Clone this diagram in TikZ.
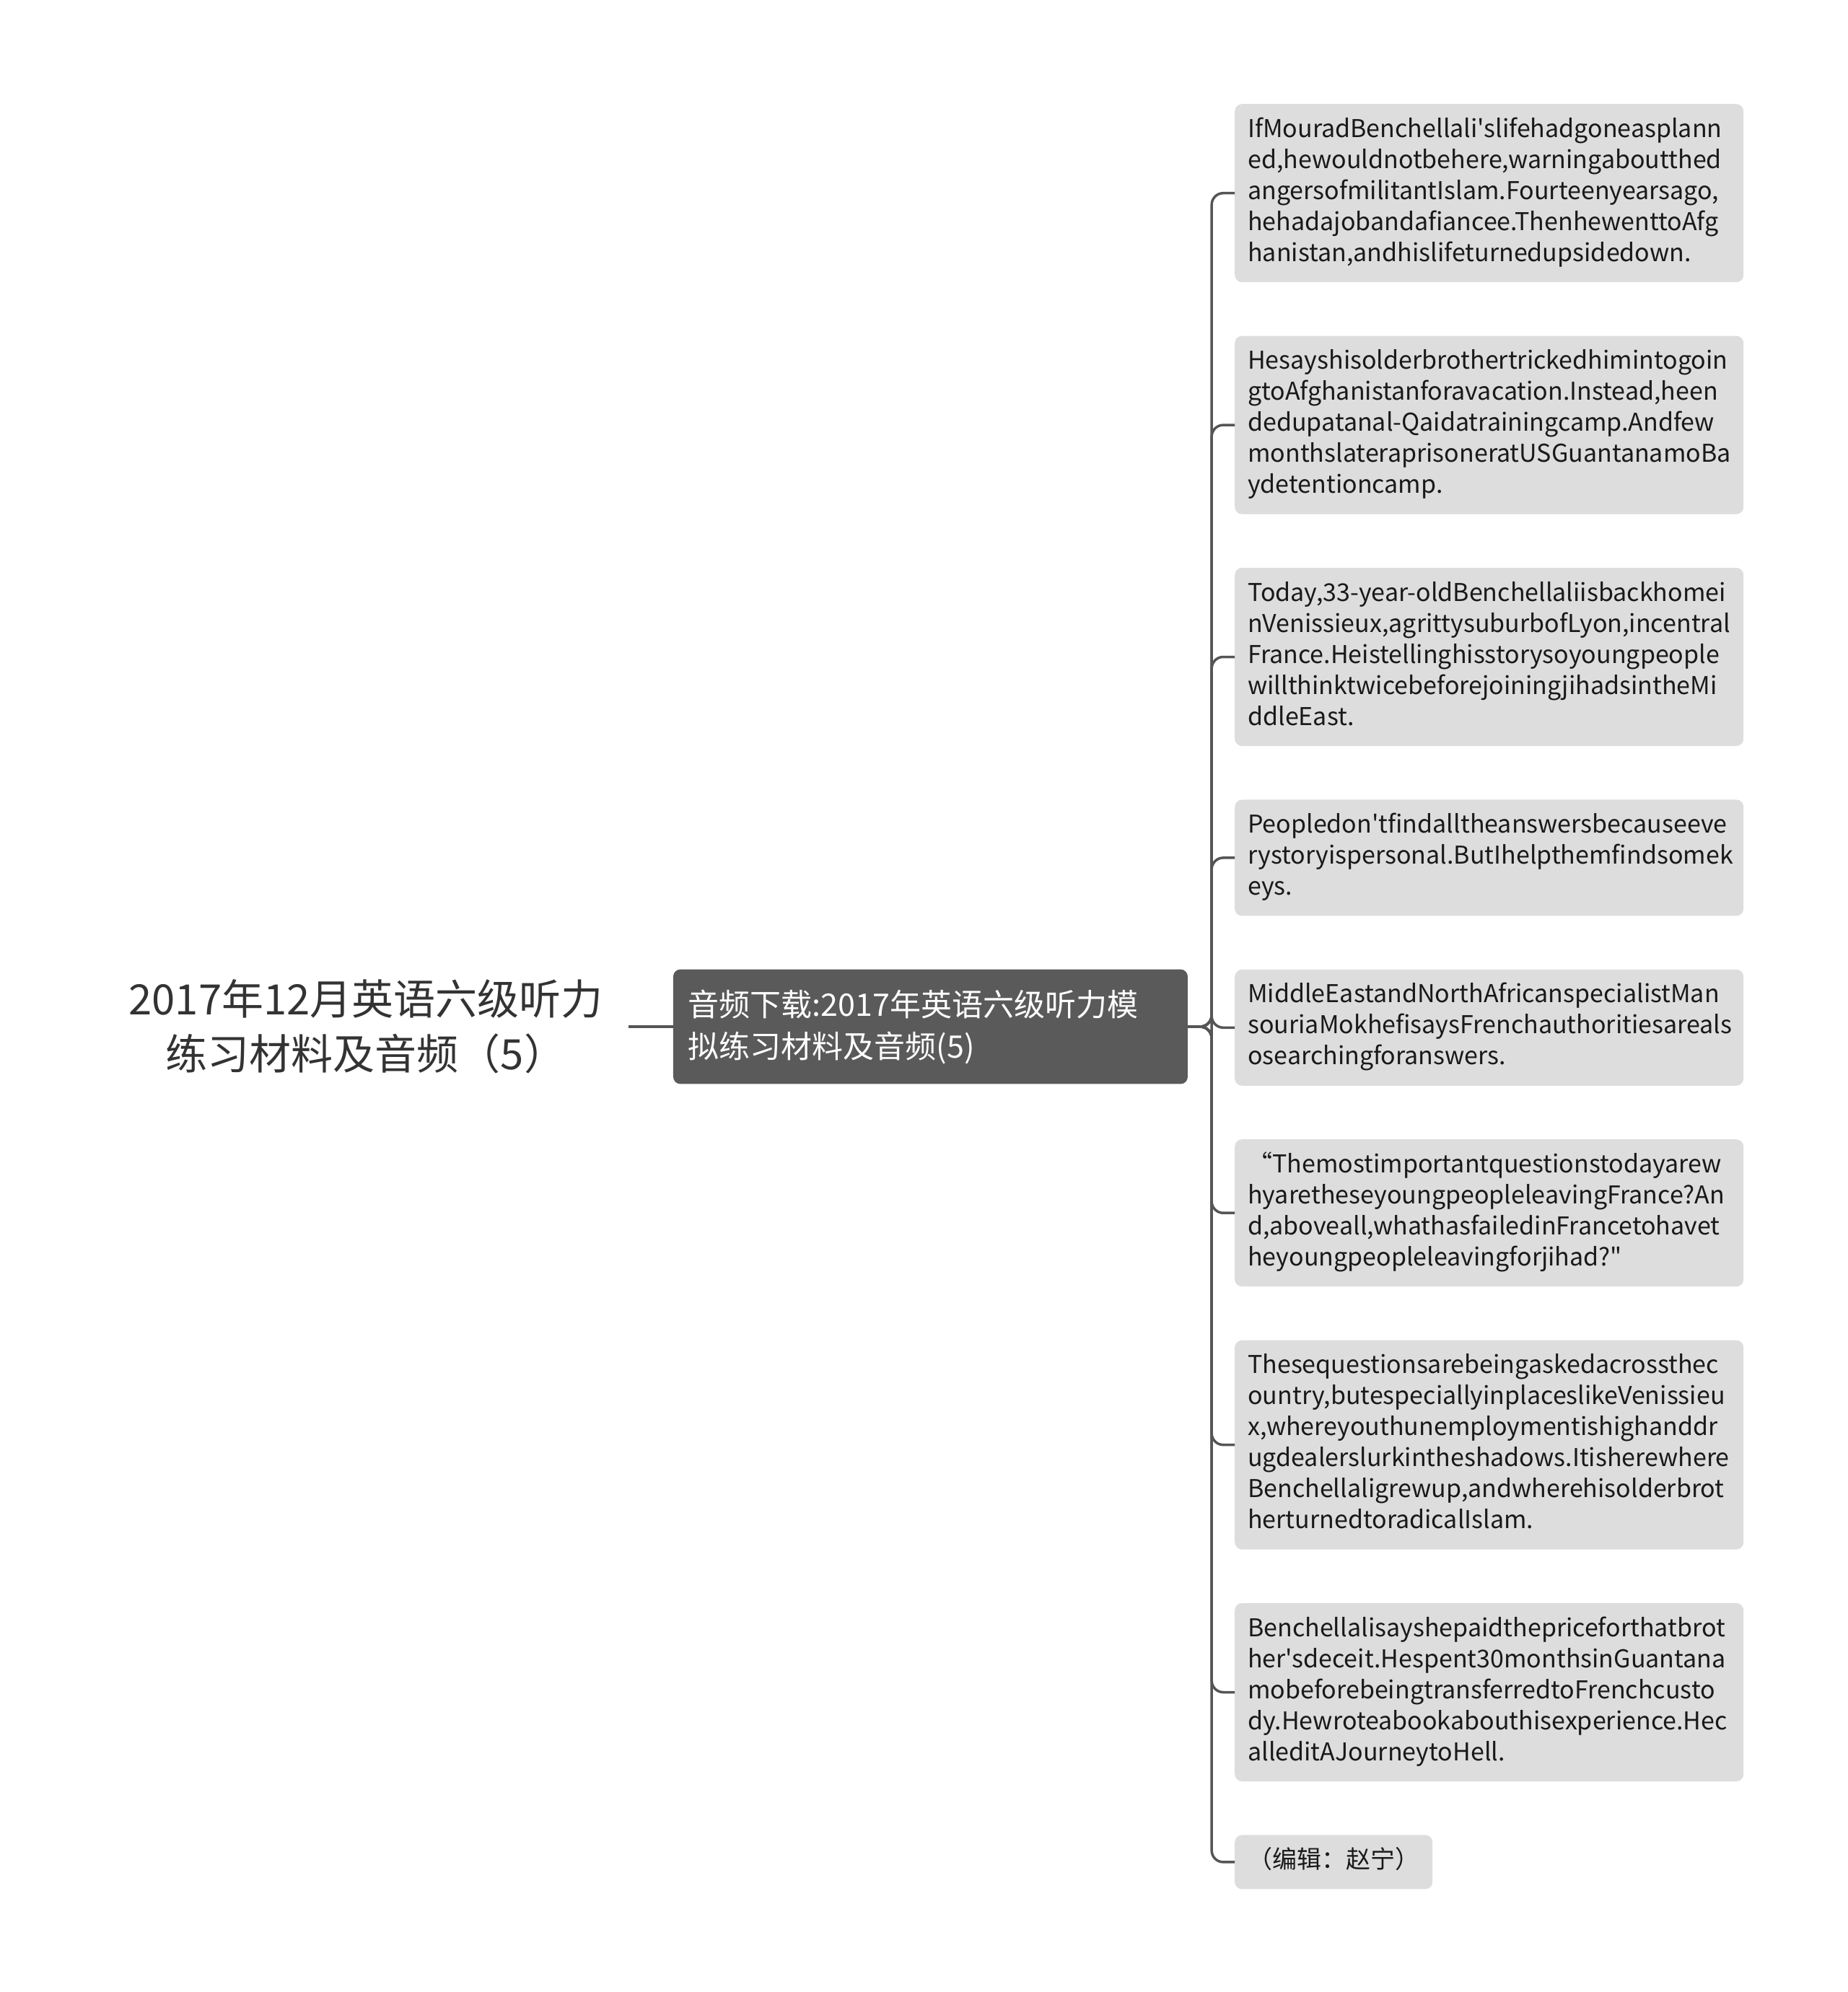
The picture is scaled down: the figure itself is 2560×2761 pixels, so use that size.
\documentclass[tikz,border=0pt]{standalone}
\usepackage{fontspec}
\setmainfont{Noto Sans CJK SC}[Ligatures=TeXOff]
\usetikzlibrary{positioning}

\hyphenpenalty=10000
\exhyphenpenalty=10000

\definecolor{linegray}{HTML}{555555}
\definecolor{subgray}{HTML}{5A5A5A}
\definecolor{leafgray}{HTML}{DDDDDD}
\definecolor{roottext}{HTML}{333333}

\tikzset{
  rootnode/.style={text=roottext, align=center, inner xsep=35pt,
    font=\fontsize{58}{76}\selectfont},
  subnode/.style={fill=subgray, text=white, rounded corners=10pt, align=left,
    text width=671pt, inner xsep=21pt, inner ysep=28pt,
    font=\fontsize{43}{58}\selectfont},
  leaf/.style={fill=leafgray, text=black!90, rounded corners=10pt, align=left,
    inner xsep=18pt, inner ysep=16pt, font=\fontsize{34}{43}\selectfont,
    execute at begin node=\strut, execute at end node=\strut},
  para/.style={leaf, text width=669pt},
  branch/.style={draw=linegray, line width=3.5pt, rounded corners=16pt},
}

\begin{document}
\begin{tikzpicture}[x=1pt, y=-1pt, node distance=74pt]
    \useasboundingbox (0,0) rectangle (2560,2761);

    % Topic
    \node[rootnode] (root) at (507,1423) {2017年12月英语六级听力\\练习材料及音频（5）};
    \node[subnode] (sub) [right=62pt of root] {音频下载:2017年英语六级听力模\\拟练习材料及音频(5)};

    % Leaves
    \node[para, anchor=north west] (t1) at (1711,144) {IfMouradBenchellali'slifehadgoneasplann\\ed,hewouldnotbehere,warningaboutthed\\angersofmilitantIslam.Fourteenyearsago,\\hehadajobandafiancee.ThenhewenttoAfg\\hanistan,andhislifeturnedupsidedown.};
    \node[para, below=of t1.south west, anchor=north west] (t2) {Hesayshisolderbrothertrickedhimintogoin\\gtoAfghanistanforavacation.Instead,heen\\dedupatanal-Qaidatrainingcamp.Andfew\\monthslateraprisoneratUSGuantanamoBa\\ydetentioncamp.};
    \node[para, below=of t2.south west, anchor=north west] (t3) {Today,33-year-oldBenchellaliisbackhomei\\nVenissieux,agrittysuburbofLyon,incentral\\France.Heistellinghisstorysoyoungpeople\\willthinktwicebeforejoiningjihadsintheMi\\ddleEast.};
    \node[para, below=of t3.south west, anchor=north west] (t4) {Peopledon'tfindalltheanswersbecauseeve\\rystoryispersonal.ButIhelpthemfindsomek\\eys.};
    \node[para, below=of t4.south west, anchor=north west] (t5) {MiddleEastandNorthAfricanspecialistMan\\souriaMokhefisaysFrenchauthoritiesareals\\osearchingforanswers.};
    \node[para, below=of t5.south west, anchor=north west] (t6) {“Themostimportantquestionstodayarew\\hyaretheseyoungpeopleleavingFrance?An\\d,aboveall,whathasfailedinFrancetohavet\\heyoungpeopleleavingforjihad?"};
    \node[para, below=of t6.south west, anchor=north west] (t7) {Thesequestionsarebeingaskedacrossthec\\ountry,butespeciallyinplaceslikeVenissieu\\x,whereyouthunemploymentishighanddr\\ugdealerslurkintheshadows.Itisherewhere\\Benchellaligrewup,andwherehisolderbrot\\herturnedtoradicalIslam.};
    \node[para, below=of t7.south west, anchor=north west] (t8) {Benchellalisayshepaidthepriceforthatbrot\\her'sdeceit.Hespent30monthsinGuantana\\mobeforebeingtransferredtoFrenchcusto\\dy.Hewroteabookabouthisexperience.Hec\\alleditAJourneytoHell.};
    \node[leaf, below=of t8.south west, anchor=north west] (t9) {（编辑：赵宁）};

    % Connectors
    \draw[branch] (root.east) -- (sub.west);
    \draw[branch] (sub.east) -- ++(33,0) |- (t1.west);
    \draw[branch] (sub.east) -- ++(33,0) |- (t2.west);
    \draw[branch] (sub.east) -- ++(33,0) |- (t3.west);
    \draw[branch] (sub.east) -- ++(33,0) |- (t4.west);
    \draw[branch] (sub.east) -- ++(33,0) |- (t5.west);
    \draw[branch] (sub.east) -- ++(33,0) |- (t6.west);
    \draw[branch] (sub.east) -- ++(33,0) |- (t7.west);
    \draw[branch] (sub.east) -- ++(33,0) |- (t8.west);
    \draw[branch] (sub.east) -- ++(33,0) |- (t9.west);
\end{tikzpicture}
\end{document}
